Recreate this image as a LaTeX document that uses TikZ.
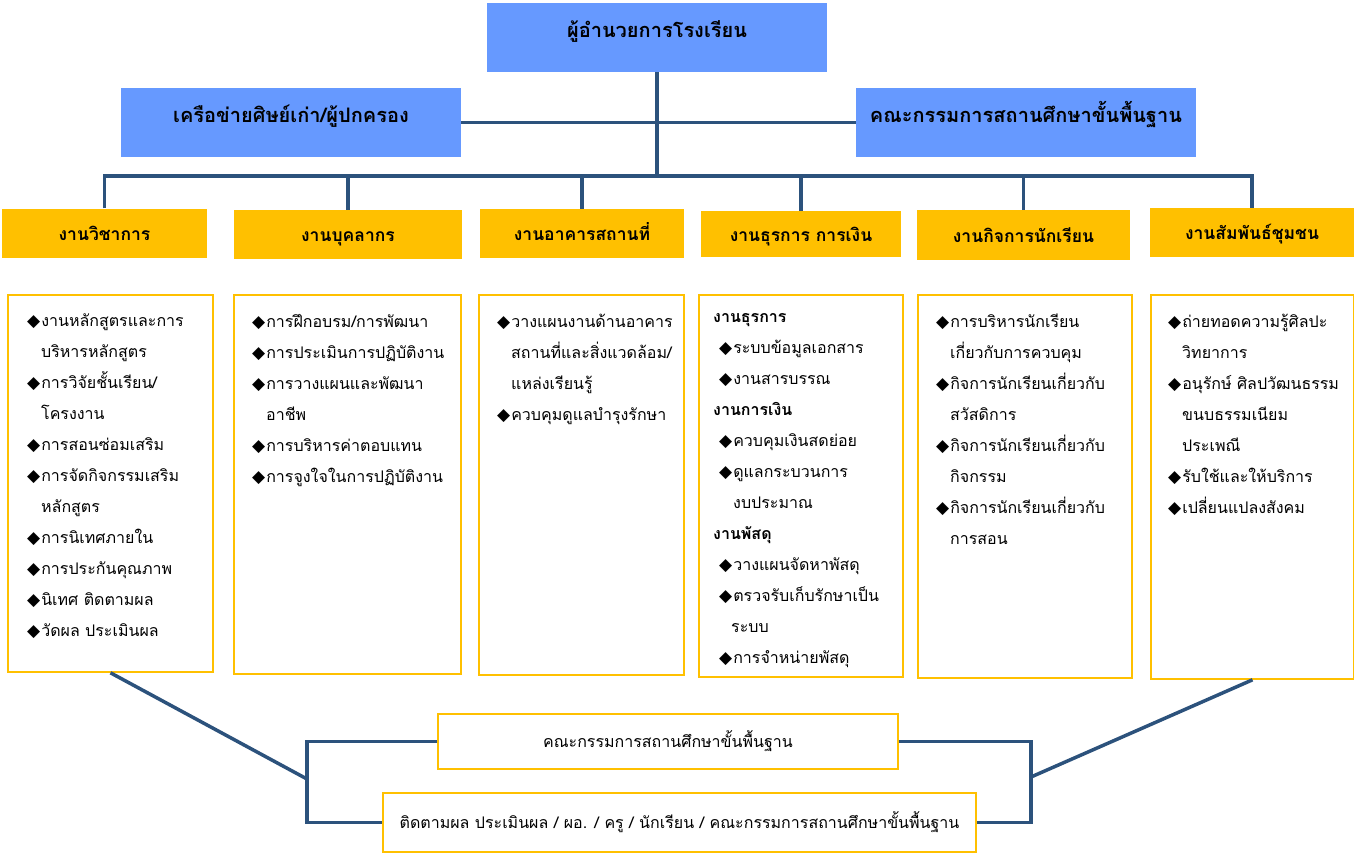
\documentclass[tikz,border=0pt]{standalone}
\usepackage{fontspec}
\newfontfamily\thaifont[Script=Thai]{Loma}
\newfontfamily\symfont{DejaVu Sans}
\usetikzlibrary{calc,positioning}
\definecolor{myblue}{RGB}{102,153,255}
\definecolor{myyellow}{RGB}{255,192,0}
\definecolor{myline}{RGB}{44,82,124}
\newcommand{\bul}{{\symfont\fontsize{17}{17}\selectfont ◆}\hspace{1pt}}
\newcommand{\ind}{\hspace*{14pt}}
\tikzset{
  bluebox/.style={fill=myblue, minimum width=340, minimum height=69, inner sep=0,
    text height=10, text depth=10, font=\thaifont\bfseries\fontsize{20}{24}\selectfont},
  headbox/.style={fill=myyellow, minimum height=49, inner sep=0,
    text height=16, text depth=2, font=\thaifont\bfseries\fontsize{17.5}{21}\selectfont},
  listbox/.style={draw=myyellow, line width=1.6, fill=white, inner sep=0},
  listtext/.style={anchor=north west, align=left, inner sep=0,
    font=\thaifont\fontsize{16}{31}\selectfont},
  smallbox/.style={draw=myyellow, line width=1.6, fill=white, inner sep=0,
    font=\thaifont\fontsize{16}{20}\selectfont},
  conn/.style={draw=myline, line width=3.5},
}
\begin{document}
\begin{tikzpicture}[x=1pt, y=-1pt]
\useasboundingbox (0,0) rectangle (1354,854);

% top level
\node[bluebox] (director) at (657,37.5) {ผู้อำนวยการโรงเรียน};
\node[bluebox] (alumni) at (291,122.5) {เครือข่ายศิษย์เก่า/ผู้ปกครอง};
\node[bluebox] (board) at (1026,122.5) {คณะกรรมการสถานศึกษาขั้นพื้นฐาน};

% work groups
\node[headbox, minimum width=205] (h1) at (104.5,233) {งานวิชาการ};
\node[headbox, minimum width=228] (h2) at (348,234.5) {งานบุคลากร};
\node[headbox, minimum width=204] (h3) at (582,233.5) {งานอาคารสถานที่};
\node[headbox, minimum width=200, minimum height=46] (h4) at (801,234) {งานธุรการ การเงิน};
\node[headbox, minimum width=213, minimum height=50] (h5) at (1023.5,235) {งานกิจการนักเรียน};
\node[headbox, minimum width=204] (h6) at (1252,232.5) {งานสัมพันธ์ชุมชน};

\coordinate (bus) at (657,176);
\draw[conn] (director.south) -- (director.south |- bus);
\draw[conn] (alumni.east) -- (board.west);
\draw[conn] (h1.north) |- (h6.north |- bus) -- (h6.north);
\foreach \h in {h2,h3,h4,h5}
  \draw[conn] (\h.north) -- (\h.north |- bus);

% task lists
\node[listbox, minimum width=205, minimum height=377] (b1) at (110.5,483.5) {};
\node[listbox, minimum width=227, minimum height=379] (b2) at (347.5,484.5) {};
\node[listbox, minimum width=205, minimum height=380] (b3) at (581.5,485) {};
\node[listbox, minimum width=204, minimum height=382] (b4) at (801,486) {};
\node[listbox, minimum width=214, minimum height=383] (b5) at (1025,486.5) {};
\node[listbox, minimum width=203, minimum height=384] (b6) at (1252.5,487) {};

\node[listtext] (t1) at (27,314) {\bul งานหลักสูตรและการ\\ \ind บริหารหลักสูตร\\
  \bul การวิจัยชั้นเรียน/\\ \ind โครงงาน\\ \bul การสอนซ่อมเสริม\\
  \bul การจัดกิจกรรมเสริม\\ \ind หลักสูตร\\ \bul การนิเทศภายใน\\
  \bul การประกันคุณภาพ\\ \bul นิเทศ ติดตามผล\\ \bul วัดผล ประเมินผล};
\node[listtext] (t2) at (252,314) {\bul การฝึกอบรม/การพัฒนา\\ \bul การประเมินการปฏิบัติงาน\\
  \bul การวางแผนและพัฒนา\\ \ind อาชีพ\\ \bul การบริหารค่าตอบแทน\\
  \bul การจูงใจในการปฏิบัติงาน};
\node[listtext] (t3) at (497,314) {\bul วางแผนงานด้านอาคาร\\ \ind สถานที่และสิ่งแวดล้อม/\\
  \ind แหล่งเรียนรู้\\ \bul ควบคุมดูแลบำรุงรักษา};
\node[listtext] (t4) at (713,313) {\textbf{งานธุรการ}\\ \hspace*{6pt}\bul ระบบข้อมูลเอกสาร\\
  \hspace*{6pt}\bul งานสารบรรณ\\ \textbf{งานการเงิน}\\ \hspace*{6pt}\bul ควบคุมเงินสดย่อย\\
  \hspace*{6pt}\bul ดูแลกระบวนการ\\ \hspace*{20pt}งบประมาณ\\ \textbf{งานพัสดุ}\\
  \hspace*{6pt}\bul วางแผนจัดหาพัสดุ\\ \hspace*{6pt}\bul ตรวจรับเก็บรักษาเป็น\\
  \hspace*{18pt}ระบบ\\ \hspace*{6pt}\bul การจำหน่ายพัสดุ};
\node[listtext] (t5) at (936,314) {\bul การบริหารนักเรียน\\ \ind เกี่ยวกับการควบคุม\\
  \bul กิจการนักเรียนเกี่ยวกับ\\ \ind สวัสดิการ\\ \bul กิจการนักเรียนเกี่ยวกับ\\
  \ind กิจกรรม\\ \bul กิจการนักเรียนเกี่ยวกับ\\ \ind การสอน};
\node[listtext] (t6) at (1168,314) {\bul ถ่ายทอดความรู้ศิลปะ\\ \ind วิทยาการ\\
  \bul อนุรักษ์ ศิลปวัฒนธรรม\\ \ind ขนบธรรมเนียม\\ \ind ประเพณี\\
  \bul รับใช้และให้บริการ\\ \bul เปลี่ยนแปลงสังคม};

% follow-up
\node[smallbox, minimum width=460, minimum height=55] (comA) at (668,741.5) {คณะกรรมการสถานศึกษาขั้นพื้นฐาน};
\node[smallbox, minimum width=593, minimum height=59] (comB) at (679.5,822.5) {ติดตามผล ประเมินผล / ผอ. / ครู / นักเรียน / คณะกรรมการสถานศึกษาขั้นพื้นฐาน};

\coordinate (jL) at (307,779);
\coordinate (jR) at (1031,777);
\draw[conn] (comA.west) -| (jL) |- (comB.west);
\draw[conn] (comA.east) -| (jR) |- (comB.east);
\draw[conn] (b1.south) -- (jL);
\draw[conn] (b6.south) -- (jR);
\end{tikzpicture}
\end{document}
